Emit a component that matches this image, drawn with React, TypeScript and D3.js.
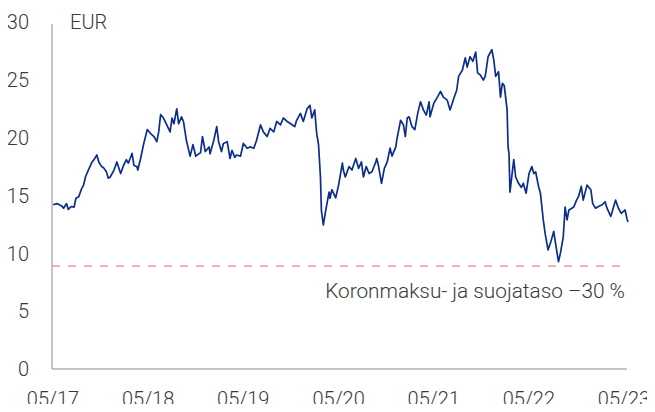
import React, { useEffect, useRef } from 'react';
import * as d3 from 'd3';

const times = [
  2017.33, 2017.37, 2017.42, 2017.44, 2017.47, 2017.49, 2017.52, 2017.55, 2017.57, 2017.60,
  2017.63, 2017.65, 2017.67, 2017.70, 2017.74, 2017.76, 2017.79, 2017.81, 2017.84, 2017.86,
  2017.89, 2017.91, 2017.93, 2017.97, 2018.00, 2018.04, 2018.07, 2018.10, 2018.12, 2018.14,
  2018.16, 2018.18, 2018.21, 2018.22, 2018.25, 2018.28, 2018.32, 2018.35, 2018.39, 2018.42,
  2018.44, 2018.46, 2018.49, 2018.52, 2018.56, 2018.58, 2018.60, 2018.63, 2018.65, 2018.68,
  2018.70, 2018.73, 2018.75, 2018.77, 2018.80, 2018.83, 2018.86, 2018.88, 2018.90, 2018.93,
  2018.97, 2018.98, 2019.02, 2019.05, 2019.07, 2019.10, 2019.12, 2019.16, 2019.19, 2019.21,
  2019.24, 2019.26, 2019.30, 2019.33, 2019.37, 2019.40, 2019.44, 2019.47, 2019.51, 2019.54,
  2019.58, 2019.61, 2019.65, 2019.68, 2019.72, 2019.75, 2019.79, 2019.82, 2019.87, 2019.89,
  2019.93, 2019.96, 2020.00, 2020.03, 2020.05, 2020.08, 2020.10, 2020.12, 2020.14, 2020.15,
  2020.17, 2020.19, 2020.23, 2020.24, 2020.26, 2020.30, 2020.33, 2020.37, 2020.38, 2020.40,
  2020.44, 2020.47, 2020.51, 2020.54, 2020.57, 2020.59, 2020.62, 2020.65, 2020.68, 2020.72,
  2020.73, 2020.75, 2020.78, 2020.81, 2020.84, 2020.87, 2020.89, 2020.93, 2020.94, 2020.98,
  2021.01, 2021.03, 2021.05, 2021.07, 2021.10, 2021.13, 2021.16, 2021.19, 2021.22, 2021.25,
  2021.28, 2021.29, 2021.33, 2021.36, 2021.40, 2021.43, 2021.47, 2021.50, 2021.54, 2021.57,
  2021.59, 2021.63, 2021.66, 2021.68, 2021.71, 2021.74, 2021.77, 2021.79, 2021.82, 2021.85,
  2021.87, 2021.90, 2021.94, 2021.96, 2021.98, 2022.01, 2022.03, 2022.05, 2022.07, 2022.10,
  2022.11, 2022.12, 2022.13, 2022.17, 2022.19, 2022.22, 2022.25, 2022.27, 2022.30, 2022.33,
  2022.36, 2022.38, 2022.40, 2022.43, 2022.45, 2022.48, 2022.50, 2022.53, 2022.56, 2022.59,
  2022.62, 2022.64, 2022.66, 2022.69, 2022.71, 2022.73, 2022.75, 2022.78, 2022.80, 2022.83,
  2022.85, 2022.88, 2022.90, 2022.94, 2022.98, 2023.00, 2023.03, 2023.06, 2023.10, 2023.13,
  2023.15, 2023.19, 2023.21, 2023.24, 2023.27, 2023.30, 2023.34, 2023.36, 2023.37,
];

// share price, EUR
const prices = [
  14.2, 14.3, 14.1, 13.9, 14.3, 13.8, 14.05, 14.0, 14.76, 14.9,
  15.6, 15.9, 16.6, 17.2, 17.9, 18.1, 18.5, 17.9, 17.5, 17.4,
  17.06, 16.5, 16.6, 17.2, 17.9, 16.9, 17.6, 18.1, 17.8, 18.2,
  18.65, 17.6, 17.5, 17.2, 18.2, 19.4, 20.7, 20.4, 20.1, 19.65,
  20.5, 22.0, 21.7, 21.2, 20.5, 21.7, 21.2, 22.5, 21.2, 21.8,
  21.4, 19.8, 19.1, 18.4, 19.4, 18.4, 18.6, 18.7, 20.1, 18.8,
  19.2, 18.6, 19.8, 20.95, 19.65, 18.8, 19.5, 19.65, 18.2, 18.9,
  18.3, 18.5, 18.4, 19.5, 19.08, 19.2, 19.08, 19.8, 21.1, 20.5,
  20.1, 20.8, 20.5, 21.4, 21.1, 21.7, 21.4, 21.25, 20.95, 21.5,
  22.1, 21.4, 22.5, 22.8, 21.7, 22.4, 20.4, 19.4, 16.6, 13.7,
  12.45, 13.46, 15.3, 14.76, 15.5, 14.8, 15.9, 17.8, 17.2, 16.6,
  17.5, 17.2, 18.2, 17.35, 17.9, 16.6, 17.5, 16.9, 17.05, 17.9,
  18.2, 17.5, 16.05, 17.35, 17.9, 19.1, 18.4, 19.2, 19.8, 21.5,
  21.1, 20.1, 21.7, 21.8, 20.95, 20.7, 22.1, 23.1, 22.4, 21.95,
  23.1, 21.8, 23.0, 23.4, 24.0, 23.5, 23.25, 22.4, 23.4, 24.1,
  25.3, 25.85, 26.9, 26.1, 27.0, 26.6, 27.4, 25.6, 25.4, 24.98,
  25.3, 27.0, 27.6, 26.7, 25.3, 25.7, 23.5, 24.7, 24.5, 22.4,
  19.2, 18.6, 15.3, 18.1, 16.6, 16.05, 15.7, 16.05, 15.2, 16.9,
  17.5, 16.9, 17.05, 15.8, 15.2, 12.9, 11.7, 10.3, 11.0, 11.9,
  10.3, 9.28, 10.0, 11.4, 14.0, 12.9, 13.75, 13.9, 14.0, 14.6,
  14.9, 15.8, 14.6, 15.9, 15.5, 14.3, 13.9, 14.05, 14.2, 14.46,
  13.9, 13.2, 13.75, 14.6, 13.9, 13.46, 13.75, 13.0, 12.7,
];

const yTicks = [0, 5, 10, 15, 20, 25, 30];
const xTickYears = [2017, 2018, 2019, 2020, 2021, 2022, 2023];
const protectionLevel = 8.9;
const protectionLabel = 'Koronmaksu- ja suojataso –30 %';
const unitLabel = 'EUR';

const toDate = (t: number) => {
  const year = Math.floor(t);
  const start = new Date(year, 0, 1).getTime();
  const end = new Date(year + 1, 0, 1).getTime();
  return new Date(start + (t - year) * (end - start));
};

export default function App() {
  const svgRef = useRef<SVGSVGElement | null>(null);

  useEffect(() => {
    if (!svgRef.current) return;
    const width = 655;
    const height = 412;
    const font = 'Roboto, "Noto Sans", sans-serif';
    const textColor = '#3a3a3a';

    const svg = d3.select(svgRef.current);
    svg.selectAll('*').remove();
    svg.attr('width', width).attr('height', height);

    const data = times.map((t, i) => ({ date: toDate(t), value: prices[i] }));

    const x = d3.scaleTime()
      .domain([new Date(2017, 4, 1), new Date(2023, 4, 1)])
      .range([53, 624]);
    const y = d3.scaleLinear().domain([0, 30]).range([369, 22]);

    const left = 52;
    const right = 627;

    // y labels
    svg.append('g')
      .selectAll('text')
      .data(yTicks)
      .enter()
      .append('text')
      .attr('x', 29)
      .attr('y', d => y(d))
      .attr('dy', '0.36em')
      .attr('text-anchor', 'end')
      .style('font-family', font)
      .style('font-weight', 300)
      .style('font-size', '20px')
      .style('fill', textColor)
      .text(d => d);

    // x labels
    svg.append('g')
      .selectAll('text')
      .data(xTickYears)
      .enter()
      .append('text')
      .attr('x', d => x(new Date(d, 4, 1)))
      .attr('y', 406)
      .attr('text-anchor', 'middle')
      .style('font-family', font)
      .style('font-weight', 300)
      .style('font-size', '20px')
      .style('fill', textColor)
      .text(d => `05/${String(d).slice(2)}`);

    // axes lines
    svg.append('line')
      .attr('x1', left).attr('x2', left)
      .attr('y1', 24).attr('y2', y(0))
      .attr('stroke', '#8c8c8c').attr('stroke-width', 1);
    svg.append('line')
      .attr('x1', left).attr('x2', right)
      .attr('y1', y(0)).attr('y2', y(0))
      .attr('stroke', '#8c8c8c').attr('stroke-width', 1);

    svg.append('text')
      .attr('x', 70)
      .attr('y', 29)
      .style('font-family', font)
      .style('font-weight', 300)
      .style('font-size', '20px')
      .style('fill', textColor)
      .text(unitLabel);

    // protection level
    svg.append('line')
      .attr('x1', left).attr('x2', right)
      .attr('y1', y(protectionLevel)).attr('y2', y(protectionLevel))
      .attr('stroke', '#ff7f7f')
      .attr('stroke-width', 1.3)
      .attr('stroke-dasharray', '8,8');

    svg.append('text')
      .attr('x', 625)
      .attr('y', 298)
      .attr('text-anchor', 'end')
      .style('font-family', font)
      .style('font-weight', 300)
      .style('font-size', '20.8px')
      .style('fill', textColor)
      .text(protectionLabel);

    const line = d3.line<{ date: Date; value: number }>()
      .x(d => x(d.date))
      .y(d => y(d.value));

    svg.append('path')
      .datum(data)
      .attr('d', line)
      .attr('fill', 'none')
      .attr('stroke', '#0b2d8c')
      .attr('stroke-width', 1.7)
      .attr('stroke-linejoin', 'round');
  }, []);

  return (
    <div style={{ margin: -8 }}>
      <svg ref={svgRef} style={{ display: 'block' }}></svg>
    </div>
  );
}
